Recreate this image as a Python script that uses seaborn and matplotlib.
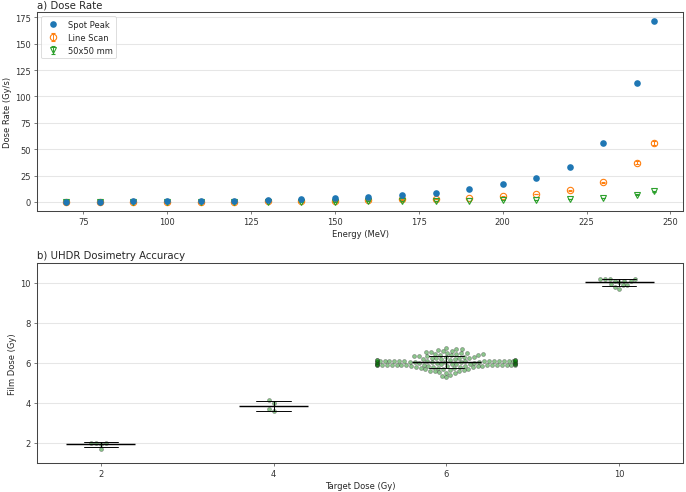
import numpy as np
import pandas as pd
import matplotlib
matplotlib.use("Agg")
import matplotlib.pyplot as plt
import seaborn as sns

# ---------------- data: panel a ----------------
energy = [70, 80, 90, 100, 110, 120, 130, 140, 150, 160, 170, 180, 190, 200, 210, 220, 230, 240, 245]
spot_peak = [0.3, 0.4, 0.5, 0.7, 0.9, 1.2, 1.7, 2.4, 3.4, 4.8, 6.6, 8.9, 12.0, 16.7, 22.4, 33.1, 55.8, 112.6, 171.5]
line_scan = [0.1, 0.15, 0.2, 0.25, 0.3, 0.4, 0.6, 0.8, 1.1, 1.8, 2.4, 3.0, 4.0, 5.4, 7.6, 11.2, 18.5, 37.1, 55.8]
line_scan_err = [0.01, 0.01, 0.01, 0.01, 0.02, 0.02, 0.03, 0.04, 0.05, 0.08, 0.1, 0.12, 0.16, 0.22, 0.3, 0.45, 0.75, 1.5, 2.2]
field_50 = [0.02, 0.03, 0.04, 0.05, 0.07, 0.09, 0.13, 0.18, 0.25, 0.5, 0.7, 0.9, 1.2, 1.5, 2.0, 2.7, 3.8, 6.9, 10.1]
field_50_err = [0.01, 0.01, 0.01, 0.01, 0.01, 0.01, 0.01, 0.01, 0.02, 0.03, 0.04, 0.05, 0.07, 0.09, 0.12, 0.16, 0.25, 0.45, 0.7]

# ---------------- data: panel b ----------------
film_2 = [2.00, 1.98, 1.97, 1.98, 1.72]
film_4 = [4.13, 4.02, 3.70, 3.62]
film_6 = [5.28, 5.35, 5.42,
          5.48, 5.52, 5.55, 5.58, 5.60, 5.62, 5.64, 5.66, 5.68, 5.70, 5.72,
          5.74, 5.75, 5.77, 5.78, 5.80, 5.81, 5.82, 5.83, 5.84,
          5.86, 5.86, 5.87, 5.87, 5.88, 5.88, 5.88, 5.89, 5.89, 5.89, 5.90, 5.90, 5.90, 5.90,
          5.91, 5.91, 5.91, 5.92, 5.92, 5.92, 5.93, 5.93, 5.93, 5.94, 5.94, 5.94, 5.95, 5.95,
          5.98, 6.00, 6.01, 6.02, 6.03,
          6.05, 6.05, 6.06, 6.06, 6.06, 6.07, 6.07, 6.07, 6.08, 6.08, 6.08, 6.09, 6.09, 6.09,
          6.10, 6.10, 6.10, 6.10, 6.11, 6.11, 6.11, 6.12, 6.12, 6.12, 6.13, 6.13, 6.14, 6.14,
          6.16, 6.18, 6.20, 6.21, 6.23, 6.24, 6.26, 6.27, 6.29, 6.30, 6.32, 6.33, 6.35, 6.36,
          6.38, 6.40, 6.41, 6.43, 6.45, 6.46, 6.48, 6.50, 6.52, 6.55, 6.57, 6.60,
          6.62, 6.65, 6.68, 6.71, 6.75]
film_10 = [10.22, 10.20, 10.18, 10.21, 10.12, 10.08, 10.05, 10.10,
           9.92, 9.88, 9.95, 9.80, 9.72]
target_doses = [2, 4, 6, 10]

rows = []
for t, vals in zip(target_doses, [film_2, film_4, film_6, film_10]):
    for v in vals:
        rows.append((t, v))
df = pd.DataFrame(rows, columns=["target", "film"])

# ---------------- figure ----------------
sns.set_style("white")
plt.rcParams.update({
    "font.family": ["DejaVu Sans"],
    "axes.edgecolor": "#444444",
    "axes.linewidth": 1.3,
    "xtick.bottom": True, "ytick.left": True,
    "xtick.color": "#333333", "ytick.color": "#333333",
    "xtick.major.size": 4, "ytick.major.size": 4,
    "xtick.labelsize": 10.5, "ytick.labelsize": 10.5,
    "axes.labelsize": 10.5,
})
DPI = 686 / 12
fig = plt.figure(figsize=(12, 493 / DPI), dpi=DPI)
W, H = 686, 493
ax1 = fig.add_axes([37 / W, 1 - 212 / H, 646 / W, 199 / H])
ax2 = fig.add_axes([37 / W, 1 - 464 / H, 646 / W, 200 / H])

# panel a
sns.scatterplot(x=energy, y=spot_peak, ax=ax1, color="#1f77b4", s=70, linewidth=0,
                label="Spot Peak", zorder=3)
ax1.errorbar(energy, line_scan, yerr=line_scan_err, fmt="o", mfc="none", mec="#ff7f0e",
             ecolor="#ff7f0e", ms=8, mew=1.4, capsize=3, elinewidth=1.2, label="Line Scan")
ax1.errorbar(energy, field_50, yerr=field_50_err, fmt="v", mfc="none", mec="#2ca02c",
             ecolor="#2ca02c", ms=8, mew=1.4, capsize=3, elinewidth=1.2, label="50x50 mm")
ax1.set_xlim(61.25, 253.75)
ax1.set_xticks([75, 100, 125, 150, 175, 200, 225, 250])
ax1.set_yticks([0, 25, 50, 75, 100, 125, 150, 175])
ax1.yaxis.grid(True, color="#e6e6e6", linewidth=1.3)
ax1.set_axisbelow(True)
ax1.set_xlabel("Energy (MeV)")
ax1.set_ylabel("Dose Rate (Gy/s)")
ax1.set_title("a) Dose Rate", loc="left", fontsize=12.7)
ax1.legend(loc="upper left", fontsize=10.5, framealpha=0.8)

# panel b
sns.swarmplot(data=df, x="target", y="film", ax=ax2, color="green", alpha=0.45,
              size=5, edgecolor="gray", linewidth=0.8, zorder=1)
sns.boxplot(data=df, x="target", y="film", ax=ax2, width=0.4,
            showmeans=True, meanline=True,
            meanprops={"color": "k", "ls": "-", "lw": 1.8},
            medianprops={"visible": False}, whiskerprops={"visible": False},
            showfliers=False, showbox=False, showcaps=False, zorder=5)
sns.pointplot(data=df, x="target", y="film", ax=ax2, errorbar="sd", capsize=0.2,
              linestyle="none", color="k", marker="o", markersize=0,
              err_kws={"linewidth": 1.2}, zorder=5)
ax2.set_xlim(-0.37, 3.37)
ax2.set_ylim(1, 11)
ax2.set_yticks([2, 4, 6, 8, 10])
ax2.yaxis.grid(True, color="#e6e6e6", linewidth=1.3)
ax2.set_axisbelow(True)
ax2.set_xlabel("Target Dose (Gy)")
ax2.set_ylabel("Film Dose (Gy)")
ax2.set_title("b) UHDR Dosimetry Accuracy", loc="left", fontsize=12.7)
for ax in (ax1, ax2):
    for s in ax.spines.values():
        s.set_visible(True)

fig.savefig("out.png", dpi=DPI)
